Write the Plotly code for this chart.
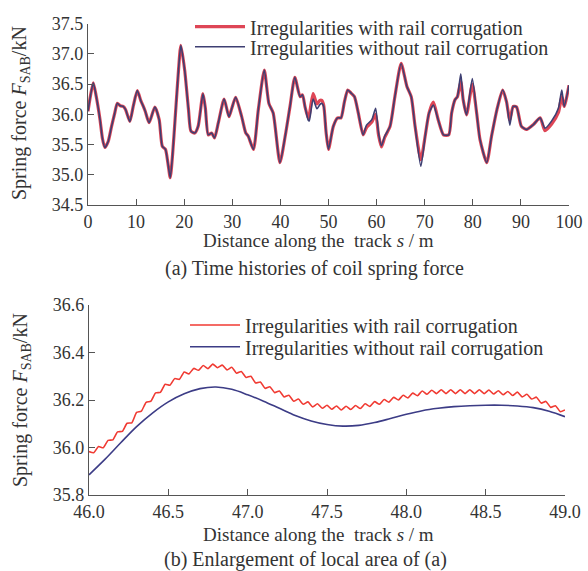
import plotly.graph_objects as go

# ---------------- Panel (a): time histories ----------------
s_a = [0.0, 0.5, 1.1, 1.7, 2.5, 3.0, 3.5, 4.2, 4.9, 5.5, 6.1, 6.7, 7.3, 7.8, 8.7, 9.4,
       10.25, 11.0, 11.5, 11.9, 12.7, 13.9, 14.8, 15.45, 16.1, 16.6, 17.1, 17.6, 18.1,
       18.7, 19.3, 20.1, 20.9, 21.4, 22.2, 22.9, 23.9, 24.4, 25.0, 25.7, 26.3, 27.1,
       28.3, 29.3, 29.9, 30.7, 31.95, 32.8, 33.3, 34.4, 35.4, 36.65, 37.6, 38.5, 39.9,
       41.0, 42.0, 43.0, 44.1, 44.6, 45.1, 45.8, 46.0, 46.8, 47.6, 48.2, 48.6, 49.0,
       49.5, 50.0, 51.0, 51.9, 52.6, 53.3, 54.0, 54.7, 55.4, 56.2, 57.2, 57.9, 59.0,
       59.8, 60.4, 61.0, 61.7, 62.8, 63.8, 65.1, 66.3, 67.2, 68.0, 69.2, 70.1, 70.9,
       71.8, 72.8, 73.9, 75.0, 75.6, 76.3, 76.8, 77.5, 78.0, 78.7, 79.9, 80.8, 81.5,
       82.9, 83.9, 85.0, 86.2, 87.0, 87.7, 88.4, 89.1, 90.1, 91.2, 92.6, 94.0, 95.0,
       96.4, 97.8, 98.5, 99.0, 100.0]

f_a_with = [36.05, 36.30, 36.52, 36.30, 35.91, 35.60, 35.45, 35.55, 35.80, 36.00, 36.18,
            36.14, 36.13, 36.08, 35.88, 36.13, 36.39, 36.22, 36.13, 36.05, 35.86, 36.12,
            35.91, 35.47, 35.42, 35.20, 34.95, 35.35, 35.91, 36.60, 37.14, 36.73, 36.07,
            35.72, 35.69, 35.80, 36.34, 36.10, 35.66, 35.69, 35.61, 35.86, 36.25, 35.96,
            36.10, 36.28, 35.96, 35.69, 35.64, 35.42, 36.07, 36.73, 36.18, 36.02, 35.20,
            35.64, 36.13, 36.61, 36.29, 36.32, 36.13, 35.93, 35.98, 36.34, 36.17, 36.23,
            36.23, 36.15, 35.70, 35.42, 35.80, 35.94, 35.94, 36.20, 36.40, 36.35, 36.29,
            36.02, 35.66, 35.78, 35.87, 36.00, 35.66, 35.46, 35.62, 35.80, 36.29, 36.84,
            36.46, 36.29, 35.80, 35.25, 35.64, 36.02, 36.20, 35.91, 35.66, 35.66, 36.02,
            36.24, 36.29, 36.54, 36.24, 35.99, 36.50, 36.02, 35.58, 35.20, 35.64, 36.07,
            36.40, 36.21, 35.90, 36.13, 36.12, 35.80, 35.75, 35.83, 35.94, 35.73, 35.84,
            36.03, 36.29, 36.13, 36.48]

f_a_without = [36.05, 36.30, 36.52, 36.30, 35.91, 35.60, 35.45, 35.55, 35.80, 36.00, 36.18,
               36.14, 36.13, 36.08, 35.88, 36.13, 36.39, 36.22, 36.13, 36.05, 35.86, 36.12,
               35.91, 35.47, 35.42, 35.20, 34.95, 35.35, 35.91, 36.60, 37.14, 36.73, 36.07,
               35.72, 35.69, 35.80, 36.34, 36.10, 35.66, 35.69, 35.61, 35.86, 36.25, 35.96,
               36.10, 36.28, 35.96, 35.69, 35.64, 35.42, 36.07, 36.73, 36.18, 36.02, 35.20,
               35.64, 36.13, 36.61, 36.29, 36.32, 36.13, 35.90, 35.89, 36.25, 36.09, 36.16,
               36.18, 36.13, 35.70, 35.42, 35.80, 35.94, 35.94, 36.20, 36.40, 36.35, 36.29,
               36.02, 35.66, 35.82, 35.91, 36.10, 35.69, 35.48, 35.64, 35.80, 36.29, 36.84,
               36.46, 36.29, 35.80, 35.14, 35.64, 36.02, 36.15, 35.91, 35.66, 35.66, 36.02,
               36.24, 36.29, 36.67, 36.24, 35.99, 36.59, 36.02, 35.58, 35.20, 35.64, 36.07,
               36.40, 36.21, 35.82, 36.13, 36.12, 35.80, 35.75, 35.83, 35.94, 35.77, 35.89,
               36.10, 36.40, 36.13, 36.48]

# ---------------- Panel (b): enlargement ----------------
s_b_without = [46.0, 46.1, 46.2, 46.3, 46.4, 46.5, 46.6, 46.7, 46.8, 46.9, 47.0, 47.1, 47.2,
               47.3, 47.4, 47.5, 47.6, 47.7, 47.8, 47.9, 48.0, 48.1, 48.2, 48.3, 48.4, 48.5,
               48.6, 48.7, 48.8, 48.9, 49.0]
f_b_without = [35.885, 35.950, 36.020, 36.088, 36.145, 36.192, 36.226, 36.248, 36.255, 36.245,
               36.222, 36.195, 36.165, 36.135, 36.112, 36.097, 36.090, 36.093, 36.105, 36.122,
               36.140, 36.155, 36.165, 36.172, 36.176, 36.178, 36.178, 36.175, 36.168, 36.153,
               36.130]

s_b_with = [round(46.0 + 0.03 * i, 2) for i in range(101)]
f_b_with = [35.983, 35.978, 36.004, 35.999, 36.030, 36.032, 36.066, 36.068, 36.102, 36.104,
            36.148, 36.153, 36.190, 36.195, 36.230, 36.232, 36.266, 36.262, 36.290, 36.287,
            36.318, 36.310, 36.333, 36.325, 36.345, 36.332, 36.351, 36.336, 36.347, 36.327,
            36.338, 36.313, 36.320, 36.295, 36.300, 36.272, 36.276, 36.249, 36.256, 36.231,
            36.238, 36.213, 36.220, 36.195, 36.204, 36.182, 36.192, 36.171, 36.184, 36.165,
            36.178, 36.161, 36.175, 36.158, 36.174, 36.160, 36.177, 36.164, 36.184, 36.173,
            36.193, 36.182, 36.202, 36.191, 36.211, 36.200, 36.220, 36.209, 36.229, 36.218,
            36.238, 36.224, 36.241, 36.227, 36.243, 36.227, 36.243, 36.227, 36.243, 36.227,
            36.243, 36.227, 36.243, 36.227, 36.242, 36.225, 36.239, 36.222, 36.236, 36.219,
            36.233, 36.213, 36.224, 36.204, 36.212, 36.187, 36.194, 36.169, 36.176, 36.151,
            36.158]

ticks_a_x = [0, 10, 20, 30, 40, 50, 60, 70, 80, 90, 100]
ticks_a_y = [34.5, 35.0, 35.5, 36.0, 36.5, 37.0, 37.5]
ticks_b_x = [46.0, 46.5, 47.0, 47.5, 48.0, 48.5, 49.0]
ticks_b_y = [35.8, 36.0, 36.2, 36.4, 36.6]

name_with = "Irregularities with rail corrugation"
name_without = "Irregularities without rail corrugation"

W, H = 588, 571
FONT = "Liberation Serif, Times New Roman, serif"
TXT = "#333333"
AX = "#555555"

def px(x):
    return x / W

def py(y):
    return (H - y) / H

fig = go.Figure()

fig.add_trace(go.Scatter(x=s_a, y=f_a_with, mode="lines", name=name_with,
                         line=dict(color="#de4656", width=3.2, shape="spline", smoothing=0.6),
                         xaxis="x", yaxis="y", legend="legend"))
fig.add_trace(go.Scatter(x=s_a, y=f_a_without, mode="lines", name=name_without,
                         line=dict(color="#3e3f72", width=1.6, shape="spline", smoothing=0.6),
                         xaxis="x", yaxis="y", legend="legend2"))
fig.add_trace(go.Scatter(x=s_b_with, y=f_b_with, mode="lines", name=name_with,
                         line=dict(color="#f03a32", width=1.6, shape="spline", smoothing=0.5),
                         xaxis="x2", yaxis="y2", legend="legend3"))
fig.add_trace(go.Scatter(x=s_b_without, y=f_b_without, mode="lines", name=name_without,
                         line=dict(color="#3c3c86", width=1.6, shape="spline"),
                         xaxis="x2", yaxis="y2", legend="legend4"))

axis_common = dict(showgrid=False, zeroline=False, showline=True, linecolor=AX,
                   linewidth=1.2, ticks="inside", ticklen=6, tickcolor=AX, tickwidth=1.2,
                   automargin=False,
                   tickfont=dict(family=FONT, size=18, color=TXT), mirror=False)

fig.update_layout(
    width=W, height=H, margin=dict(l=0, r=0, t=0, b=0, autoexpand=False),
    paper_bgcolor="white", plot_bgcolor="white",
    font=dict(family=FONT, size=19, color=TXT),
    xaxis=dict(domain=[px(88), px(569)], range=[0, 100], tickvals=ticks_a_x,
               anchor="y", **axis_common),
    yaxis=dict(domain=[py(205), py(23.5)], range=[34.5, 37.5], tickvals=ticks_a_y,
               tickformat=".1f", anchor="x", **axis_common),
    xaxis2=dict(domain=[px(89), px(565)], range=[46.0, 49.0], tickvals=ticks_b_x,
                tickformat=".1f", anchor="y2", **axis_common),
    yaxis2=dict(domain=[py(495), py(305)], range=[35.8, 36.6], tickvals=ticks_b_y,
                tickformat=".1f", anchor="x2", **axis_common),
    showlegend=True,
)

leg_common = dict(bgcolor="rgba(0,0,0,0)", borderwidth=0, xanchor="left", yanchor="middle",
                  itemwidth=50, font=dict(family=FONT, size=20, color=TXT))
fig.update_layout(
    legend=dict(x=px(190), y=py(26.7), **leg_common),
    legend2=dict(x=px(190), y=py(46.7), **leg_common),
    legend3=dict(x=px(185), y=py(325), **leg_common),
    legend4=dict(x=px(185), y=py(346.7), **leg_common),
)

ann = []
ytitle = "Spring force <i>F</i><sub>SAB</sub>/kN"
xtitle = "Distance along the\u00a0 track <i>s</i> / m"
ann.append(dict(text=xtitle, x=px(318), y=py(240), xref="paper", yref="paper",
                showarrow=False, xanchor="center", yanchor="middle"))
ann.append(dict(text="(a) Time histories of coil spring force", x=px(314), y=py(268),
                xref="paper", yref="paper", showarrow=False, xanchor="center", yanchor="middle",
                font=dict(size=20)))
ann.append(dict(text=xtitle, x=px(318), y=py(534), xref="paper", yref="paper",
                showarrow=False, xanchor="center", yanchor="middle"))
ann.append(dict(text="(b) Enlargement of local area of (a)", x=px(305), y=py(559),
                xref="paper", yref="paper", showarrow=False, xanchor="center", yanchor="middle",
                font=dict(size=20)))
ann.append(dict(text=ytitle, x=px(21), y=py(113), xref="paper", yref="paper",
                showarrow=False, textangle=-90, xanchor="center", yanchor="middle",
                font=dict(size=20)))
ann.append(dict(text=ytitle, x=px(21), y=py(400), xref="paper", yref="paper",
                showarrow=False, textangle=-90, xanchor="center", yanchor="middle",
                font=dict(size=20)))
fig.update_layout(annotations=ann)

fig.write_html("out.html")
